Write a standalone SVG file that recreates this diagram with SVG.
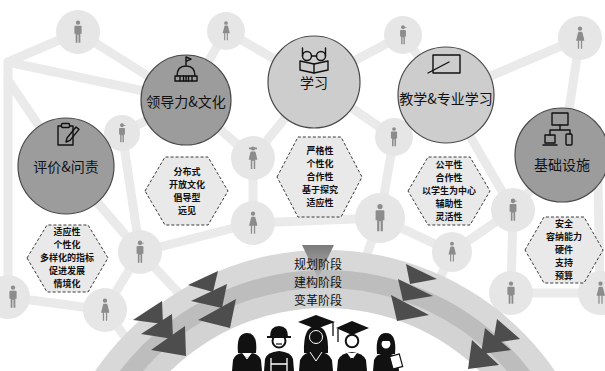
<svg xmlns="http://www.w3.org/2000/svg" xmlns:xlink="http://www.w3.org/1999/xlink" width="605" height="371" viewBox="0 0 605 371">
  <style>
    .link { stroke: #eaeaea; stroke-width: 9; stroke-linecap: round; fill: none; }
    .pnode { fill: #e6e6e6; }
    .fig { fill: #8c8c8c; }
    .main { stroke: #4a4a4a; stroke-width: 1.2; }
    .dark { fill: #9c9c9c; }
    .light { fill: #cdcdcd; }
    .title { font-family: "Noto Sans CJK SC", "Noto Sans", sans-serif; font-size: 14px; fill: #111; text-anchor: middle; }
    .hex { fill: #e9e9e9; stroke: #3a3a3a; stroke-width: 1; stroke-dasharray: 3 2; }
    .item { font-family: "Noto Sans CJK SC", "Noto Sans", sans-serif; font-size: 9px; font-weight: bold; fill: #111; text-anchor: middle; }
    .icon { fill: none; stroke: #111; stroke-width: 1.4; stroke-linejoin: round; stroke-linecap: round; }
    .stage { font-family: "Noto Sans CJK SC", "Noto Sans", sans-serif; font-size: 12px; fill: #111; text-anchor: middle; }
    .tri { fill: #4d4d4d; }
    .blk { fill: #111; }
  </style>
  <defs>
    <symbol id="man" viewBox="0 0 10 26">
      <circle cx="5" cy="2.6" r="2.4"/>
      <path d="M2 6h6q1 0 1 1v8h-1.4v10h-2v-9h-1.2v9h-2V15H1V7q0-1 1-1z"/>
    </symbol>
    <symbol id="woman" viewBox="0 0 10 26">
      <circle cx="5" cy="2.6" r="2.4"/>
      <path d="M3.6 6h2.8q1 0 1.3 1l2.3 9H7.4v9H6v-9H4v9H2.6v-9H0.6l2.3-9q0.3-1 0.7-1z"/>
    </symbol>
    <symbol id="kid" viewBox="0 0 10 26">
      <circle cx="5" cy="3.2" r="2.3"/>
      <path d="M2.6 2.6q0-2.4 2.4-2.4t2.4 2.4h2.2v0.9H2.6z"/>
      <path d="M2.2 6.4h5.6q1 0 1 1v7.6H7.4v10H5.6v-9H4.4v9H2.6V15H1.2V7.4q0-1 1-1z"/>
    </symbol>
    <symbol id="girl" viewBox="0 0 10 26">
      <circle cx="5" cy="2.8" r="2.3"/>
      <circle cx="1.8" cy="2.6" r="1.2"/>
      <circle cx="8.2" cy="2.6" r="1.2"/>
      <path d="M3.4 6h3.2q1 0 1.3 1l1.8 8H7.4v10H5.8v-9H4.2v9H2.6V15H0.3l1.8-8q0.3-1 1.3-1z"/>
    </symbol>
    <linearGradient id="drop" x1="0" y1="0" x2="0" y2="1">
      <stop offset="0" stop-color="#7a7a7a"/>
      <stop offset="1" stop-color="#b5b5b5"/>
    </linearGradient>
  </defs>

  <rect width="605" height="371" fill="#ffffff"/>

  <!-- background network links -->
  <g id="connectors">
    <line class="link" x1="78" y1="32" x2="8" y2="62"/>
    <line class="link" x1="78" y1="32" x2="186" y2="100"/>
    <line class="link" x1="8" y1="62" x2="186" y2="100"/>
    <line class="link" x1="8" y1="62" x2="8" y2="297"/>
    <line class="link" x1="8" y1="80" x2="66" y2="166"/>
    <line class="link" x1="122" y1="133" x2="66" y2="166"/>
    <line class="link" x1="122" y1="133" x2="186" y2="100"/>
    <line class="link" x1="122" y1="133" x2="140" y2="252"/>
    <line class="link" x1="66" y1="166" x2="140" y2="252"/>
    <line class="link" x1="140" y1="252" x2="105" y2="310"/>
    <line class="link" x1="140" y1="252" x2="253" y2="223"/>
    <line class="link" x1="140" y1="252" x2="190" y2="305"/>
    <line class="link" x1="105" y1="310" x2="8" y2="297"/>
    <line class="link" x1="105" y1="310" x2="135" y2="350"/>
    <line class="link" x1="226" y1="31" x2="186" y2="100"/>
    <line class="link" x1="226" y1="31" x2="314" y2="82"/>
    <line class="link" x1="403" y1="35" x2="314" y2="82"/>
    <line class="link" x1="403" y1="35" x2="446" y2="95"/>
    <line class="link" x1="186" y1="100" x2="253" y2="158"/>
    <line class="link" x1="253" y1="158" x2="314" y2="82"/>
    <line class="link" x1="253" y1="158" x2="253" y2="223"/>
    <line class="link" x1="253" y1="223" x2="380" y2="218"/>
    <line class="link" x1="380" y1="218" x2="394" y2="137"/>
    <line class="link" x1="394" y1="137" x2="314" y2="82"/>
    <line class="link" x1="394" y1="137" x2="446" y2="95"/>
    <line class="link" x1="380" y1="218" x2="362" y2="268"/>
    <line class="link" x1="446" y1="95" x2="513" y2="210"/>
    <line class="link" x1="513" y1="210" x2="452" y2="252"/>
    <line class="link" x1="452" y1="252" x2="380" y2="218"/>
    <line class="link" x1="452" y1="252" x2="430" y2="300"/>
    <line class="link" x1="511" y1="293" x2="513" y2="210"/>
    <line class="link" x1="511" y1="293" x2="600" y2="293"/>
    <line class="link" x1="511" y1="293" x2="482" y2="335"/>
    <line class="link" x1="562" y1="155" x2="580" y2="38"/>
    <line class="link" x1="580" y1="38" x2="446" y2="95"/>
    <line class="link" x1="562" y1="155" x2="513" y2="210"/>
    <line class="link" x1="598" y1="180" x2="600" y2="293"/>
  </g>

  <!-- people in the network -->
  <g id="people">
    <g id="p-a"><circle class="pnode" cx="78" cy="32" r="22"/><use href="#man" class="fig" x="73.5" y="20" width="9" height="24"/></g>
    <g id="p-b"><circle class="pnode" cx="226" cy="31" r="19"/><use href="#woman" class="fig" x="222" y="21" width="8" height="20"/></g>
    <g id="p-c"><circle class="pnode" cx="403" cy="35" r="19"/><use href="#kid" class="fig" x="399" y="25" width="8" height="20"/></g>
    <g id="p-d"><circle class="pnode" cx="580" cy="38" r="22"/><use href="#woman" class="fig" x="575.5" y="26" width="9" height="24"/></g>
    <g id="p-e"><circle class="pnode" cx="122" cy="133" r="18"/><use href="#kid" class="fig" x="118" y="123" width="8" height="20"/></g>
    <g id="p-f"><circle class="pnode" cx="253" cy="158" r="22"/><use href="#girl" class="fig" x="248" y="146" width="10" height="24"/></g>
    <g id="p-g"><circle class="pnode" cx="253" cy="223" r="22"/><use href="#woman" class="fig" x="248.5" y="211" width="9" height="24"/></g>
    <g id="p-h"><circle class="pnode" cx="394" cy="137" r="19"/><use href="#man" class="fig" x="390" y="127" width="8" height="20"/></g>
    <g id="p-i"><circle class="pnode" cx="380" cy="218" r="25"/><use href="#man" class="fig" x="374.5" y="203" width="11" height="30"/></g>
    <g id="p-j"><circle class="pnode" cx="140" cy="252" r="22"/><use href="#kid" class="fig" x="135.5" y="240" width="9" height="24"/></g>
    <g id="p-k"><circle class="pnode" cx="105" cy="310" r="22"/><use href="#woman" class="fig" x="100.5" y="298" width="9" height="24"/></g>
    <g id="p-l"><circle class="pnode" cx="8" cy="297" r="22"/><use href="#man" class="fig" x="8.5" y="285" width="9" height="24"/></g>
    <g id="p-m"><circle class="pnode" cx="452" cy="252" r="20"/><use href="#woman" class="fig" x="448" y="241" width="8" height="22"/></g>
    <g id="p-n"><circle class="pnode" cx="511" cy="293" r="22"/><use href="#man" class="fig" x="506.5" y="281" width="9" height="24"/></g>
    <g id="p-o"><circle class="pnode" cx="600" cy="293" r="22"/><use href="#woman" class="fig" x="596" y="281" width="9" height="24"/></g>
    <g id="p-p"><circle class="pnode" cx="513" cy="210" r="22"/><use href="#kid" class="fig" x="508.5" y="198" width="9" height="24"/></g>
  </g>

  <!-- 评价&问责 -->
  <g id="node-assessment">
    <circle class="main dark" cx="66" cy="166" r="48"/>
    <path class="icon" d="M70 126h3v19H58v-19h3"/>
    <rect class="icon" x="61.5" y="123.5" width="8" height="4" rx="1"/>
    <path class="icon" d="M66 142l1-4 9-11 3 2.4-9 11z"/>
    <text class="title" x="66" y="172">评价&amp;问责</text>
    <polygon class="hex" points="27,258 47,225 88,225 108,258 88,292 47,292"/>
    <text class="item" x="67" y="235">适应性</text>
    <text class="item" x="67" y="248">个性化</text>
    <text class="item" x="67" y="261">多样化的指标</text>
    <text class="item" x="67" y="274">促进发展</text>
    <text class="item" x="67" y="287">情境化</text>
  </g>

  <!-- 领导力&文化 -->
  <g id="node-leadership">
    <circle class="main dark" cx="186" cy="100" r="45"/>
    <path class="icon" d="M186 65v-8l5 2.2-5 2.2"/>
    <path class="icon" d="M177 76q0-10 9-10t9 10"/>
    <path class="icon" d="M175 76h22v5h-22z"/>
    <path class="icon" d="M180 76v5M183.5 76v5M186 76v5M188.5 76v5M192 76v5" stroke-width="1"/>
    <text class="title" x="186" y="107">领导力&amp;文化</text>
    <polygon class="hex" points="145,191 165,157 208,157 228,191 208,225 165,225"/>
    <text class="item" x="187" y="175">分布式</text>
    <text class="item" x="187" y="188">开放文化</text>
    <text class="item" x="187" y="201">倡导型</text>
    <text class="item" x="187" y="214">远见</text>
  </g>

  <!-- 学习 -->
  <g id="node-learning">
    <circle class="main light" cx="314" cy="82" r="46" fill="#c9c9c9"/>
    <circle class="icon" cx="307" cy="56" r="4.5"/>
    <circle class="icon" cx="321" cy="56" r="4.5"/>
    <path class="icon" d="M302.5 56v-8M325.5 56v-8M311.5 56h5"/>
    <path class="icon" d="M300 61l14 3 14-3v9l-14 3-14-3z"/>
    <path class="icon" d="M314 64v9" stroke-width="1"/>
    <text class="title" x="314" y="88" font-size="13">学习</text>
    <polygon class="hex" points="277,177 298,137 341,137 362,177 341,217 298,217"/>
    <text class="item" x="320" y="154">严格性</text>
    <text class="item" x="320" y="167">个性化</text>
    <text class="item" x="320" y="180">合作性</text>
    <text class="item" x="320" y="193">基于探究</text>
    <text class="item" x="320" y="206">适应性</text>
  </g>

  <!-- 教学&专业学习 -->
  <g id="node-teaching">
    <circle class="main light" cx="446" cy="95" r="48" fill="#d0d0d0"/>
    <rect class="icon" x="433" y="55" width="27" height="18"/>
    <path class="icon" d="M428 73l21-11"/>
    <text class="title" x="446" y="104">教学&amp;专业学习</text>
    <polygon class="hex" points="408,191 428,157 470,157 490,191 470,225 428,225"/>
    <text class="item" x="449" y="168">公平性</text>
    <text class="item" x="449" y="181">合作性</text>
    <text class="item" x="449" y="194">以学生为中心</text>
    <text class="item" x="449" y="207">辅助性</text>
    <text class="item" x="449" y="220">灵活性</text>
  </g>

  <!-- 基础设施 -->
  <g id="node-infrastructure">
    <circle class="main dark" cx="562" cy="155" r="47"/>
    <rect class="icon" x="552" y="113" width="16" height="12"/>
    <path class="icon" d="M560 125v5M550 130h20M550 130v5M570 130v4"/>
    <rect class="icon" x="545" y="135" width="10" height="8"/>
    <path class="icon" d="M543 145h14"/>
    <rect class="icon" x="566" y="134" width="6" height="11" rx="1"/>
    <text class="title" x="562" y="170">基础设施</text>
    <polygon class="hex" points="525,250 544,217 584,217 603,250 584,283 544,283"/>
    <text class="item" x="564" y="227">安全</text>
    <text class="item" x="564" y="240">容纳能力</text>
    <text class="item" x="564" y="253">硬件</text>
    <text class="item" x="564" y="266">支持</text>
    <text class="item" x="564" y="279">预算</text>
  </g>

  <!-- stage arcs -->
  <g id="stages">
    <circle cx="325" cy="529" r="279" fill="#d8d8d8"/>
    <circle cx="325" cy="529" r="259" fill="#bdbdbd"/>
    <circle cx="325" cy="529" r="241" fill="#d3d3d3"/>
    <circle cx="325" cy="529" r="221" fill="#ffffff"/>

    <polygon points="302,245 334,245 318,278" fill="url(#drop)"/>

    <polygon class="tri" points="218,271 213,292 188,285"/>
    <polygon class="tri" points="227,284 222,308 191,301"/>
    <polygon class="tri" points="236,299 230,328 198,320"/>
    <polygon class="tri" points="162,301 163,324 133,320"/>
    <polygon class="tri" points="172,314 173,339 141,334"/>
    <polygon class="tri" points="185,326 186,356 151,350"/>

    <polygon class="tri" points="406,264 410,284 437,279" fill="#5a5a5a"/>
    <polygon class="tri" points="398,279 403,301 433,296" fill="#5a5a5a"/>
    <polygon class="tri" points="391,295 397,321 429,315" fill="#5a5a5a"/>
    <polygon class="tri" points="497,319 493,343 520,339"/>
    <polygon class="tri" points="485,328 481,354 511,350"/>
    <polygon class="tri" points="472,340 468,369 499,365"/>

    <text class="stage" x="318" y="269">规划阶段</text>
    <text class="stage" x="318" y="287">建构阶段</text>
    <text class="stage" x="318" y="305">变革阶段</text>
  </g>

  <!-- people at the base -->
  <g id="community">
    <g id="c-woman">
      <path class="blk" d="M238 353q-2-20 9-20t9 20z"/>
      <path class="blk" d="M232 371l1-11q2-6 9-7l5 5 5-5q7 1 9 7l1 11z"/>
      <path d="M243 353l4 6 4-6" fill="none" stroke="#fff" stroke-width="1"/>
    </g>
    <g id="c-worker">
      <path class="blk" d="M264 371l1-12q2-7 14-8 12 1 14 8l1 12z"/>
      <path d="M271 371v-13M287 371v-13M271 364h16" fill="none" stroke="#fff" stroke-width="1.3"/>
      <circle cx="279" cy="341" r="6.5" fill="#fff" stroke="#111" stroke-width="2"/>
      <path d="M276 344h6" stroke="#111" stroke-width="1.2"/>
      <path class="blk" d="M270 337q0-11 9-11t9 11z"/>
      <path d="M267 337h24" stroke="#111" stroke-width="2"/>
    </g>
    <g id="c-graduate-f">
      <path class="blk" d="M304 353q-1-27 12-27t12 27z"/>
      <path class="blk" d="M299 371l1-11q3-8 16-9 13 1 16 9l1 11z"/>
      <circle cx="316" cy="337" r="6.5" fill="#111" stroke="#fff" stroke-width="1"/>
      <path d="M310 352l6 9 6-9" fill="none" stroke="#fff" stroke-width="1"/>
      <path class="blk" d="M298 322l18-7 19 7-19 7z"/>
      <path d="M333 322v14" stroke="#111" stroke-width="1.3"/>
    </g>
    <g id="c-graduate-m">
      <path class="blk" d="M337 371l1-11q3-7 14-8 11 1 14 8l1 11z"/>
      <path d="M347 353l5 7 5-7z" fill="#fff"/>
      <path class="blk" d="M351 358h2l1.2 8h-4.4z"/>
      <circle cx="352" cy="341" r="6.3" fill="#fff" stroke="#111" stroke-width="2"/>
      <path class="blk" d="M336 328l16-7 17 7-17 7z"/>
      <path d="M338 329v13" stroke="#111" stroke-width="1.3"/>
    </g>
    <g id="c-teacher">
      <path class="blk" d="M377 354q-2-21 9-21t9 21z"/>
      <circle cx="386" cy="344" r="5.2" fill="#fff" stroke="#111" stroke-width="1.5"/>
      <path class="blk" d="M380 341q2-6 8-5 4 1 6 5z"/>
      <path class="blk" d="M373 371l1-11q2-6 12-7 10 1 12 7l1 11z"/>
      <rect x="391" y="355" width="10" height="13" fill="#fff" stroke="#111" stroke-width="1.2" transform="rotate(-15 396 361)"/>
    </g>
  </g>
</svg>
